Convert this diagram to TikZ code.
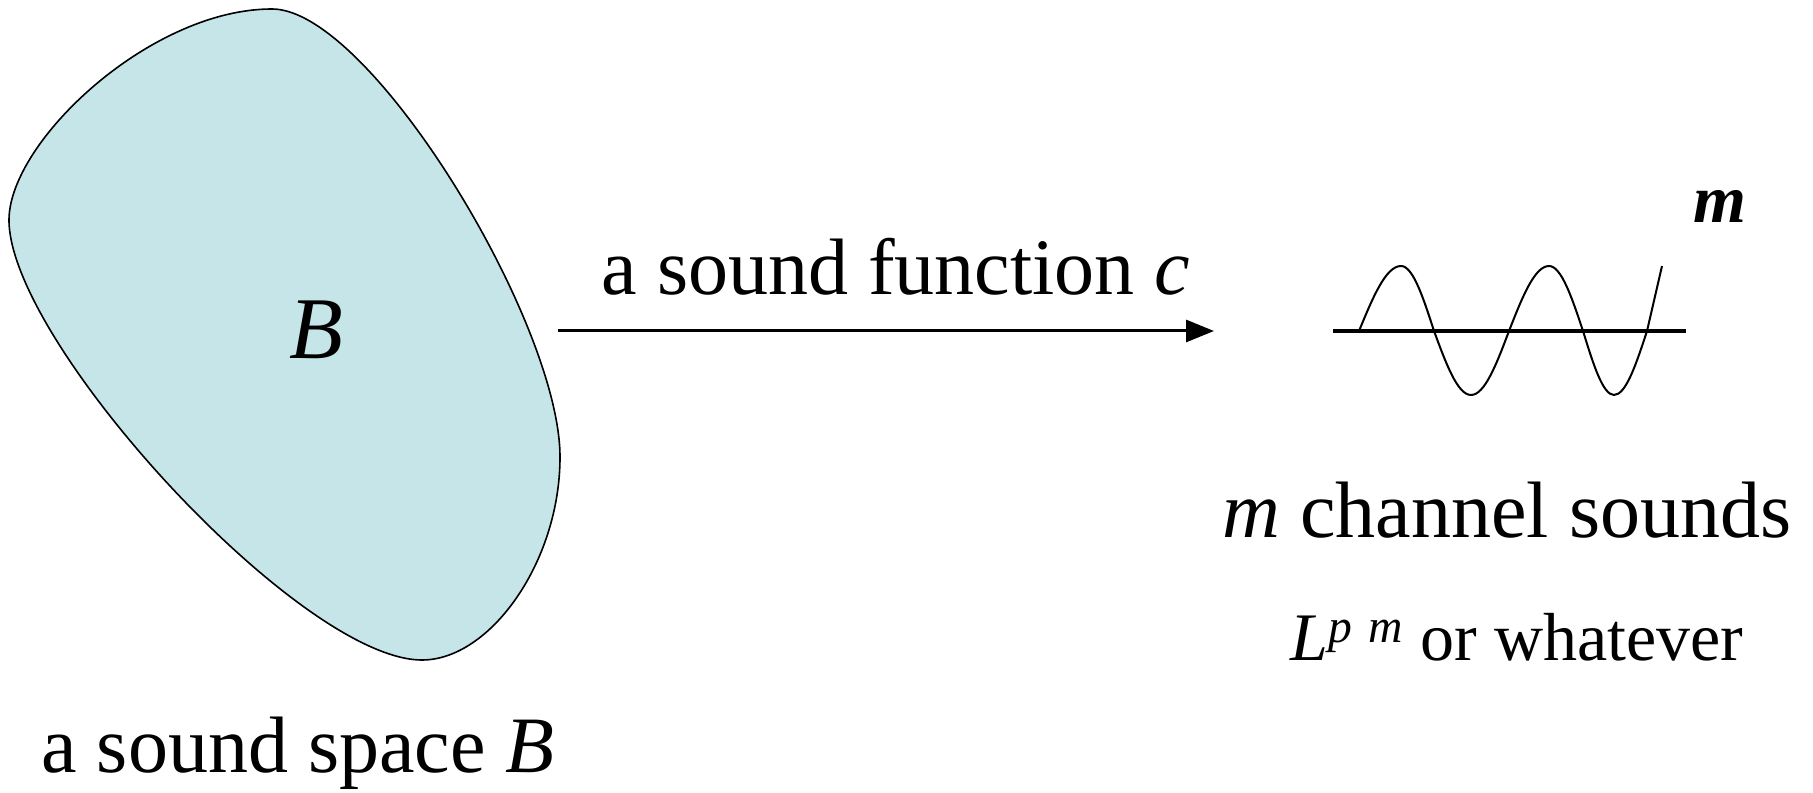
\documentclass[tikz,border=0pt]{standalone}
\usepackage{fontspec}
\setmainfont{Liberation Serif}
\usepackage{tikz}
\usepackage{xcolor}
\usetikzlibrary{arrows.meta, positioning, calc}
\definecolor{cBlob}{RGB}{197,229,232}
\tikzset{
	bigtext/.style  ={font=\fontsize{40}{48}\selectfont, anchor=base, inner sep=0pt},
	smalltext/.style={font=\fontsize{34}{40}\selectfont, anchor=base, inner sep=0pt},
	maparrow/.style ={-{Triangle[length=14pt, width=11pt]}, line width=1.5pt},
	blobline/.style ={draw=black, line width=0.8pt, fill=cBlob},
	wave/.style     ={line width=1pt},
	axisline/.style ={line width=2.4pt},
}

\begin{document}
\begin{tikzpicture}[x=0.5pt, y=0.5pt]
	\useasboundingbox (0,0) rectangle (1813,792);
	% sound space
	\filldraw[blobline] (272,783) .. controls (370,783) and (560,470) .. (560,335)
		.. controls (560,230) and (490,132) .. (422,132)
		.. controls (300,132) and (9,450) .. (9,572)
		.. controls (9,650) and (150,783) .. cycle;
	\node[font=\fontsize{44}{52}\selectfont\itshape] (spaceB) at (316,462) {B};
	\node[bigtext] (spacelabel) at (298,20) {a sound space \textit{B}};
	% sound function
	\coordinate (fstart) at (558,461);
	\coordinate (fend) at (1214,461);
	\draw[maparrow] (fstart) -- (fend);
	\node[bigtext] (funclabel) at (896,497) {a sound function \textit{c}};
	% channel sounds
	\draw[axisline] (1333,461) -- (1686,461);
	\draw[wave] (1359,461) sin (1401,526) cos (1434,461) sin (1471,397) cos (1509,461)
		sin (1549,526) cos (1583,461) sin (1614,397) cos (1647,461) -- (1662,526);
	\node[font=\fontsize{34}{40}\selectfont\bfseries\itshape] (mlabel) at (1720,586) {m};
	\node[bigtext] (chanlabel) at (1507,254) {\textit{m} channel sounds};
	\node[smalltext] (lplabel) at (1517,131) {\textit{L}\textsuperscript{\textit{p}\,\,\textit{m}} or whatever};
\end{tikzpicture}
\end{document}
